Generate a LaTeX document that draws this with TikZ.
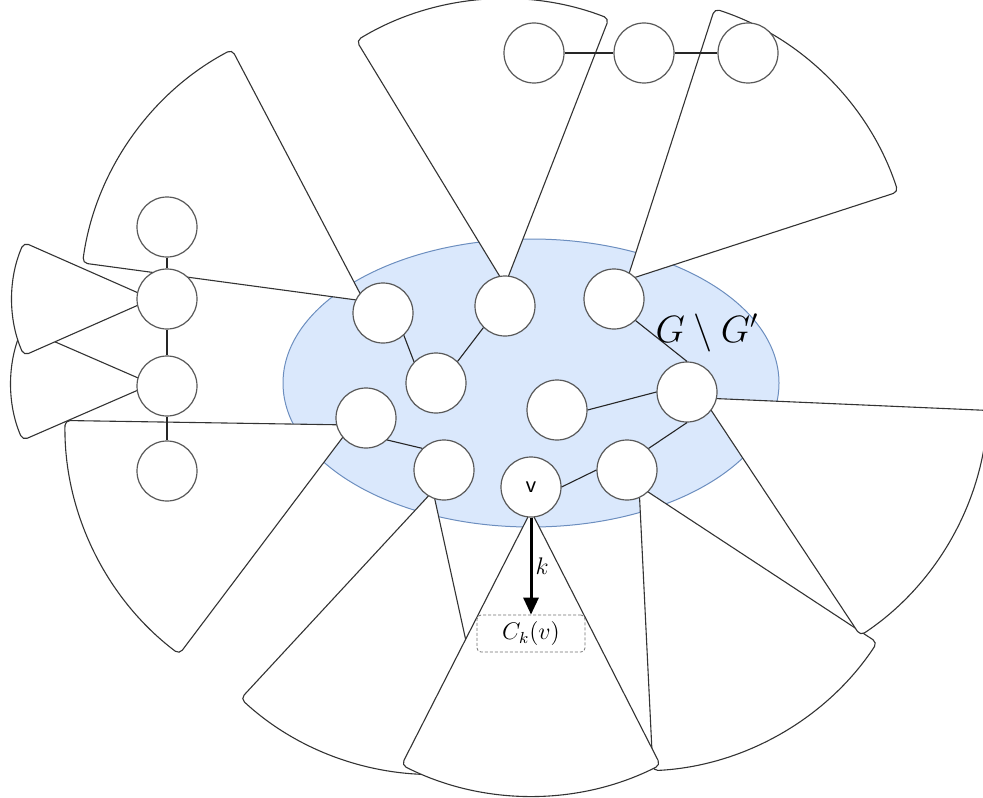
\documentclass[tikz,border=0pt]{standalone}
\usepackage{amsmath}
\usepackage{xcolor}
\usepackage{tikz}
\usetikzlibrary{arrows.meta}

\definecolor{coreFill}{HTML}{DAE8FC}
\definecolor{coreLine}{HTML}{6C8EBF}

\tikzset{
  every vertex/.style={circle, draw=black!65, fill=white, line width=0.6pt, minimum size=30pt, inner sep=0pt},
  cone/.style={draw=black!80, fill=white, line width=0.55pt, rounded corners=2.5pt},
  chain edge/.style={draw=black!85, line width=0.55pt},
  tag box/.style={draw=black!55, dash pattern=on 1.5pt off 1pt, rounded corners=2pt, minimum width=54pt, minimum height=18.5pt, inner sep=0pt, font=\large}
}

\begin{document}
\begin{tikzpicture}[x=0.5pt, y=-0.5pt, >={Triangle[length=8.5pt,width=7.5pt]}]
\useasboundingbox (0,0) rectangle (983,797);
\clip (0,0) rectangle (983,797);

\draw [draw=coreLine, fill=coreFill, line width=0.5pt] (531,383) ellipse [x radius=248, y radius=144];

\foreach \x/\y/\a/\s/\r in {352/425/127/53.9/287, 152/384/156.5/47/141, 152/299/156.2/47.6/140,
    364/301/187.7/54.6/284, 505/285/238.7/52.6/286, 627/280/287.9/54.1/285,
    433/491/77.6/55.2/283, 639/486/33.3/53.9/285, 703/398/2.5/54/285, 531/511/63/54/285}
  \draw [cone] (\x,\y) -- ++(\a:\r) arc [start angle=\a, end angle=\a+\s, radius=\r] -- cycle;

\foreach \m/\x/\y in {1/383/313, 2/505/306, 3/614/299, 4/436/383, 5/366/418,
    6/557/410, 7/687/392, 8/444/470, 9/627/470}
  \node [every vertex] (core-\m) at (\x,\y) {};
\node [every vertex, font=\sffamily\large] (core-v) at (531,487) {v};

\foreach \m/\y in {1/227, 2/299, 3/386, 4/471}
  \node [every vertex] (side-\m) at (167,\y) {};

\foreach \m/\x in {1/534, 2/644, 3/748}
  \node [every vertex] (top-\m) at (\x,53) {};

\foreach \i/\j in {1/2, 2/3, 3/4}
  \draw [chain edge] (side-\i) -- (side-\j);

\foreach \i/\j in {1/2, 2/3}
  \draw [chain edge] (top-\i) -- (top-\j);

\foreach \i/\j in {1.-47/4.136, 4.45/2.-135, 5.-46/8.135, 6.east/7.west, 3.-45/7.north, 7.south/9.45, 9.west/v.east}
  \draw [chain edge] (core-\i) -- (core-\j);

\node [font=\LARGE, scale=1.1, transform shape, anchor=base] (cut) at (707,342) {$G \setminus G'$};

\node [tag box] (ckv) at (531,633.5) {$C_k(v)$};
\draw [->, line width=1.5pt] (core-v) -- (ckv)
  node [midway, right, inner sep=1.5pt, font=\large] {$k$};
\end{tikzpicture}
\end{document}
